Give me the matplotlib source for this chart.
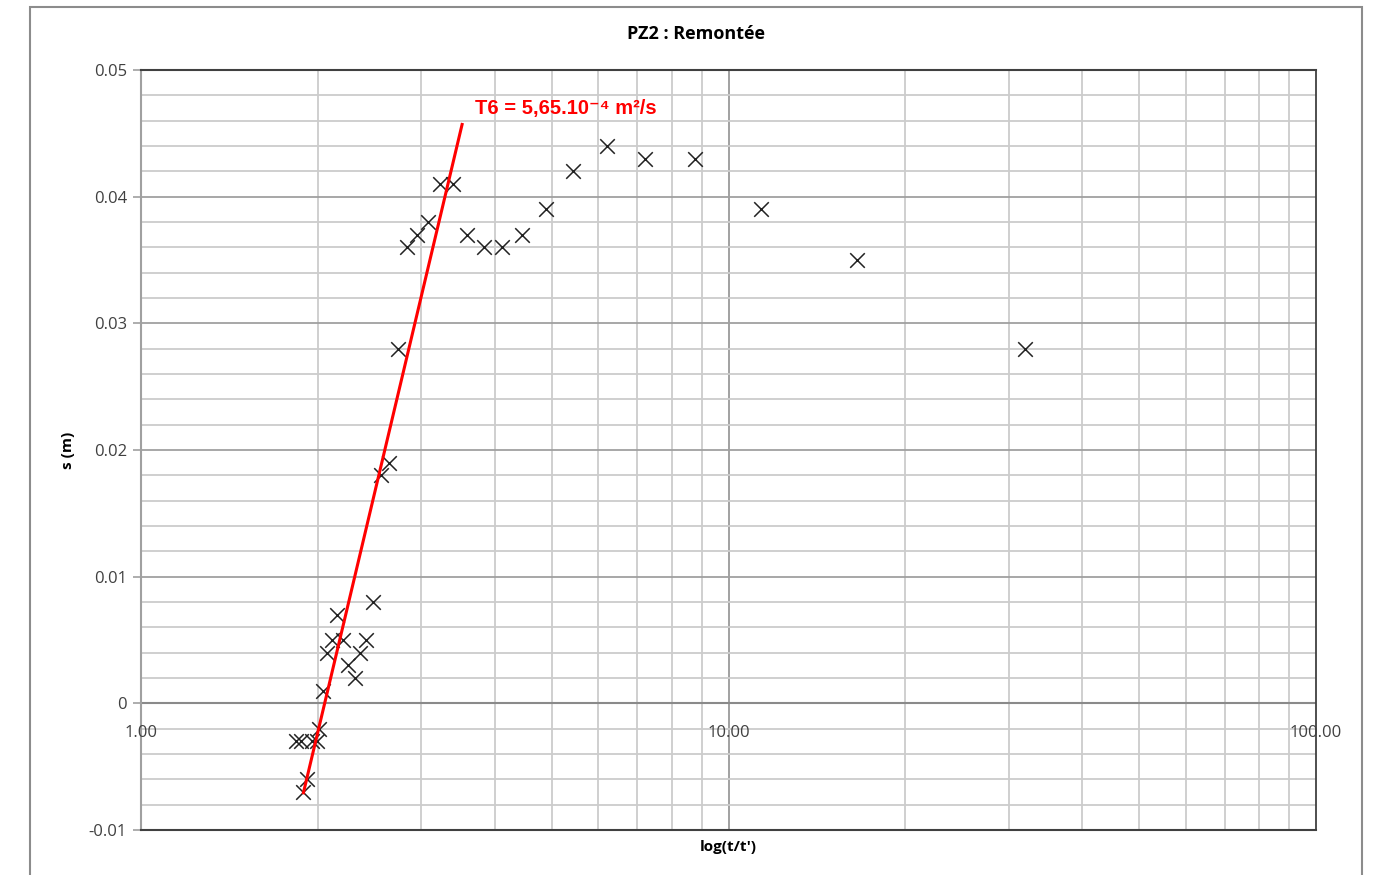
import matplotlib.pyplot as plt
from matplotlib.patches import Rectangle
from matplotlib.ticker import FixedLocator, NullFormatter

# t/t' values and residual drawdown s (m)
ratio = [1.835, 1.873, 1.954, 1.993, 1.89, 1.92, 2.01, 2.04, 2.07, 2.11,
         2.16, 2.21, 2.25, 2.31, 2.36, 2.42, 2.48, 2.56, 2.64, 2.74,
         2.84, 2.95, 3.08, 3.23, 3.40, 3.59, 3.84, 4.12, 4.45, 4.89,
         5.44, 6.21, 7.21, 8.77, 11.36, 16.55, 31.96]
drawdown = [-0.003, -0.003, -0.003, -0.003, -0.007, -0.006, -0.002, 0.001, 0.004, 0.005,
            0.007, 0.005, 0.003, 0.002, 0.004, 0.005, 0.008, 0.018, 0.019, 0.028,
            0.036, 0.037, 0.038, 0.041, 0.041, 0.037, 0.036, 0.036, 0.037, 0.039,
            0.042, 0.044, 0.043, 0.043, 0.039, 0.035, 0.028]

# fitted straight line (two end points)
fit_x = [1.89, 3.52]
fit_y = [-0.00706, 0.0457]

y_ticks = [-0.01, 0, 0.01, 0.02, 0.03, 0.04, 0.05]
y_labels = ["-0.01", "0", "0.01", "0.02", "0.03", "0.04", "0.05"]
x_ticks = [1, 10, 100]
x_labels = ["1.00", "10.00", "100.00"]

plt.rcParams["font.family"] = ["Open Sans", "DejaVu Sans"]

fig = plt.figure(figsize=(13.73, 8.75), dpi=100)
ax = fig.add_axes([141 / 1373, 1 - 830 / 875, 1175 / 1373, 760 / 875])

# outer chart frame
fig.patches.append(Rectangle((30 / 1373, -0.05), 1332 / 1373, 1.05 - 7 / 875,
                             transform=fig.transFigure, fill=False,
                             edgecolor="#8c8c8c", lw=1.5, zorder=0))

ax.set_xscale("log")
ax.set_xlim(1, 100)
ax.set_ylim(-0.01, 0.05)

# grid
minor_x = [m * 10 ** d for d in range(2) for m in range(2, 10)]
for xv in minor_x:
    ax.axvline(xv, color="#cccccc", lw=1.3, zorder=1)
ax.axvline(10, color="#9a9a9a", lw=1.3, zorder=1)
for k in range(31):
    yv = -0.01 + k * 0.002
    major = k % 5 == 0
    ax.axhline(yv, color="#a0a0a0" if major else "#cccccc", lw=1.3, zorder=1)
ax.axhline(0, color="#8a8a8a", lw=1.5, zorder=1.5)

for side in ["top", "bottom"]:
    ax.spines[side].set_color("#404040")
    ax.spines[side].set_linewidth(1.5)
ax.spines["left"].set_color("#a0a0a0")
ax.spines["left"].set_linewidth(1.5)
ax.spines["right"].set_color("#404040")
ax.spines["right"].set_linewidth(1.3)

ax.set_yticks(y_ticks)
ax.set_yticklabels(y_labels, fontsize=12, color="#404040")
ax.tick_params(axis="y", length=6, color="#a0a0a0", width=1.2, pad=4)

ax.xaxis.set_major_locator(FixedLocator([]))
ax.xaxis.set_minor_locator(FixedLocator([]))
ax.xaxis.set_minor_formatter(NullFormatter())
for xv, lab in zip(x_ticks, x_labels):
    ax.text(xv, -0.0017, lab, ha="center", va="top", fontsize=12,
            color="#404040", zorder=5)

ax.scatter(ratio, drawdown, marker="x", s=110, color="#222222",
           linewidths=1.1, zorder=3)
ax.plot(fit_x, fit_y, color="#ff0000", lw=2.2, zorder=4)

ax.text(3.7, 0.0462, "T6 = 5,65.10\u207b\u2074 m²/s", color="#ff0000",
        fontsize=14.5, fontweight="bold", family=["Liberation Sans", "DejaVu Sans"],
        va="bottom", ha="left", zorder=5)

fig.text(696 / 1373, 1 - 34 / 875, "PZ2 : Remontée", ha="center", va="center",
         fontsize=13, fontweight="bold")
ax.set_ylabel("s (m)", fontsize=11, fontweight="bold", labelpad=10)
ax.text(0.5, -0.013, "log(t/t')", transform=ax.transAxes, ha="center",
        va="top", fontsize=11, fontweight="bold")

fig.savefig("out.png", dpi=100)
